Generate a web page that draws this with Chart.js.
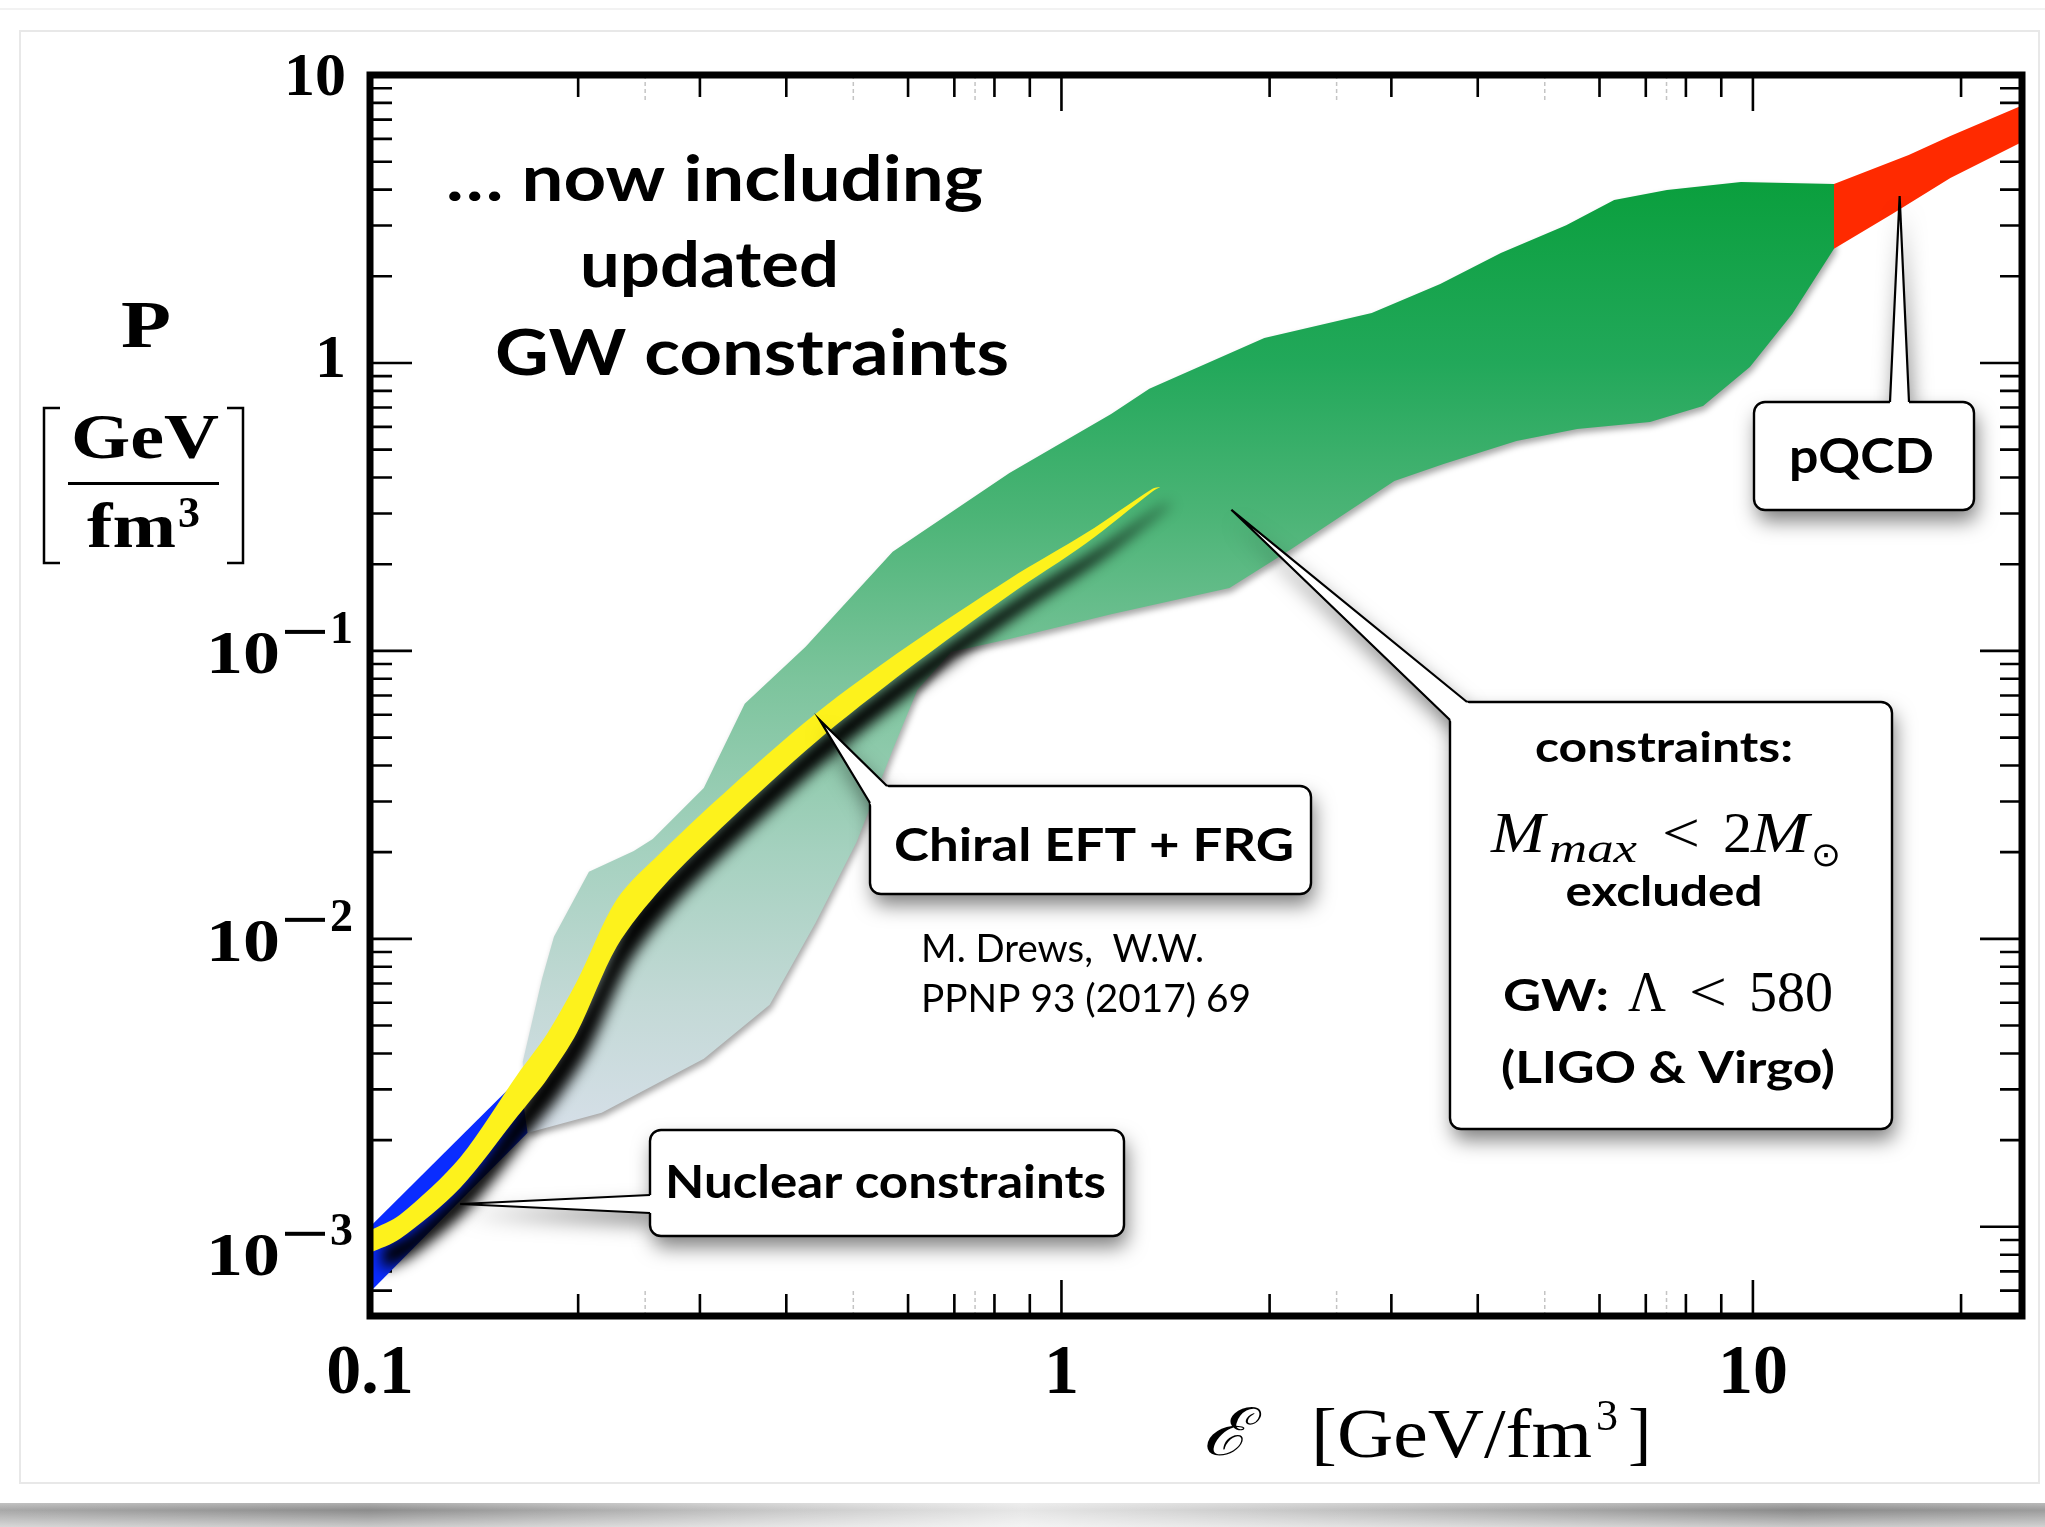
<!DOCTYPE html>
<html>
<head>
<meta charset="utf-8">
<title>Neutron star matter EoS</title>
<script src="https://cdn.jsdelivr.net/npm/chart.js@4.4.1/dist/chart.umd.min.js"></script>
<style>
  html, body { margin: 0; padding: 0; background: #fff; }
  #wrap { width: 2045px; height: 1527px; }
</style>
</head>
<body>
<div id="wrap"><canvas id="eos" width="2045" height="1527"></canvas></div>
<script>
// energy density E and pressure P, both in GeV/fm^3

// constraints band (Mmax > 2 Msun, GW tidal deformability)
const greenUpperE = [0.1663, 0.1773, 0.1845, 0.2073, 0.2407, 0.2564, 0.3039, 0.3483, 0.4266, 0.570, 0.841, 1.18, 1.34, 1.965, 2.81, 3.53, 4.32, 5.37, 6.30, 7.51, 9.61, 13.1];
const greenUpperP = [0.00374, 0.00726, 0.01016, 0.0171, 0.0202, 0.0222, 0.0334, 0.0655, 0.1033, 0.2208, 0.415, 0.665, 0.813, 1.22, 1.49, 1.88, 2.41, 3.01, 3.68, 3.99, 4.25, 4.18];
const greenLowerE = [0.1692, 0.2163, 0.304, 0.3785, 0.441, 0.5055, 0.570, 0.619, 0.693, 0.841, 1.18, 1.75, 2.14, 3.03, 3.57, 4.55, 5.57, 7.10, 8.47, 9.90, 11.4, 13.1];
const greenLowerP = [0.00212, 0.00249, 0.00383, 0.0059, 0.01137, 0.0217, 0.0453, 0.0733, 0.0993, 0.110, 0.134, 0.1655, 0.224, 0.389, 0.446, 0.536, 0.590, 0.624, 0.709, 0.968, 1.48, 2.49];

// perturbative QCD
const pqcdUpperE = [13.1, 16.8, 19.3, 25];
const pqcdUpperP = [4.18, 5.27, 6.14, 8.0];
const pqcdLowerE = [13.1, 15.9, 19.3, 25];
const pqcdLowerP = [2.49, 3.29, 4.39, 6.0];

// nuclear constraints
const nuclearUpperE = [0.1, 0.1647];
const nuclearUpperP = [0.00100, 0.00329];
const nuclearLowerE = [0.1, 0.169];
const nuclearLowerP = [0.000594, 0.00212];

// chiral EFT + FRG
const chiralE = [0.1, 0.1105, 0.135, 0.1636, 0.1802, 0.1992, 0.2275, 0.265, 0.3314, 0.441, 0.599, 0.841, 1.087, 1.354, 1.39];
const chiralUpperP = [0.00097, 0.0011, 0.00174, 0.00339, 0.00466, 0.00712, 0.01373, 0.02023, 0.03343, 0.0605, 0.1037, 0.1777, 0.257, 0.366, 0.371];
const chiralLowerP = [0.000811, 0.000908, 0.001365, 0.00243, 0.00325, 0.00472, 0.00941, 0.01514, 0.02586, 0.0482, 0.0863, 0.1564, 0.237, 0.358, 0.371];

// axes
const xTickValues = [0.1, 0.2, 0.3, 0.4, 0.6, 0.7, 0.8, 0.9, 1, 2, 3, 4, 6, 7, 8, 9, 10, 20];
const xFaintTicks = [0.25, 0.5, 0.75, 2.5, 5, 7.5];
const yTickValues = [0.0006, 0.0007, 0.0008, 0.0009, 0.001, 0.002, 0.003, 0.004, 0.005, 0.006, 0.007, 0.008, 0.009,
  0.01, 0.02, 0.03, 0.04, 0.05, 0.06, 0.07, 0.08, 0.09, 0.1, 0.2, 0.3, 0.4, 0.5, 0.6, 0.7, 0.8, 0.9,
  1, 2, 3, 4, 5, 6, 7, 8, 9, 10];
const xLabelValues = [0.1, 1, 10];
const xLabelTexts = ['0.1', '1', '10'];
const yLabelValues = [10, 1, 0.1, 0.01, 0.001];
const yLabelBases = ['10', '1', '10', '10', '10'];
const yLabelExponents = ['', '', '1', '2', '3'];

// points the callout tails aim at
const pqcdTip = [16.3, 3.8];
const constraintsTip = [1.761, 0.309];
const chiralTip = [0.447, 0.0576];
const nuclearTip = [0.135, 0.0012];

const sans = 'Lato, "Open Sans", sans-serif';
const serif = '"Liberation Serif", "DejaVu Serif", serif';

const toPoints = (es, ps) => es.map((e, i) => ({ x: e, y: ps[i] }));
const outline = (ue, up, le, lp) => toPoints(ue, up).concat(toPoints(le, lp).reverse());

const greenStops = [[4.3, '#0a9f3d'], [1.0, '#22a85a'], [0.3, '#4bb476'], [0.08, '#7cc49c'], [0.02, '#a5d1bf'], [0.006, '#c3d9d6'], [0.0021, '#d6dfe8']];

function greenFill(c) {
  const chart = c.chart;
  if (!chart.chartArea) return '#3cae6e';
  const y = chart.scales.y;
  const top = y.getPixelForValue(greenStops[0][0]);
  const bot = y.getPixelForValue(greenStops[greenStops.length - 1][0]);
  const g = chart.ctx.createLinearGradient(0, top, 0, bot);
  greenStops.forEach(([v, col]) => g.addColorStop((y.getPixelForValue(v) - top) / (bot - top), col));
  return g;
}

const bandShadows = {
  'Chiral EFT + FRG': { color: 'rgba(0,0,0,1)', blur: 14, dx: 12, dy: 17 },
  'constraints': { color: 'rgba(0,0,0,0.35)', blur: 6, dx: 2, dy: 4 }
};

// shadow has to be set before the filler paints the band
const bandShadow = {
  id: 'bandShadow',
  beforeDatasetDraw(chart, args) {
    const s = bandShadows[chart.data.datasets[args.index].label];
    if (!s) return;
    const ctx = chart.ctx;
    ctx.save();
    ctx.shadowColor = s.color;
    ctx.shadowBlur = s.blur;
    ctx.shadowOffsetX = s.dx;
    ctx.shadowOffsetY = s.dy;
  },
  afterDatasetDraw(chart, args) {
    if (bandShadows[chart.data.datasets[args.index].label]) chart.ctx.restore();
  }
};
const filler = Chart.registry.plugins.get('filler');
Chart.unregister(filler);
Chart.register(bandShadow, filler);

function put(ctx, text, x, y, font, width, align) {
  ctx.save();
  ctx.font = font;
  ctx.textAlign = align || 'left';
  ctx.textBaseline = 'alphabetic';
  ctx.translate(x, y);
  if (width) ctx.scale(width / ctx.measureText(text).width, 1);
  ctx.fillText(text, 0, 0);
  ctx.restore();
}

const pageBackdrop = {
  id: 'pageBackdrop',
  beforeDraw(chart) {
    const ctx = chart.ctx;
    const w = chart.width;
    ctx.save();
    ctx.fillStyle = '#ffffff';
    ctx.fillRect(0, 0, w, chart.height);
    ctx.strokeStyle = '#f2f2f2';
    ctx.lineWidth = 2;
    ctx.beginPath(); ctx.moveTo(0, 9); ctx.lineTo(w, 9); ctx.stroke();
    ctx.strokeStyle = '#e8e8e8';
    ctx.strokeRect(20, 31, 2019, 1452);
    const g = ctx.createLinearGradient(0, 0, w, 0);
    g.addColorStop(0, '#a8a8a8');
    g.addColorStop(0.18, '#8c8c8c');
    g.addColorStop(0.38, '#c8c8c8');
    g.addColorStop(0.5, '#e6e6e6');
    g.addColorStop(0.66, '#c0c0c0');
    g.addColorStop(0.88, '#8a8a8a');
    g.addColorStop(1, '#9c9c9c');
    ctx.fillStyle = g;
    ctx.fillRect(0, 1503, w, 24);
    const v = ctx.createLinearGradient(0, 1503, 0, 1527);
    v.addColorStop(0, 'rgba(255,255,255,0.3)');
    v.addColorStop(0.3, 'rgba(255,255,255,0)');
    v.addColorStop(1, 'rgba(255,255,255,0.55)');
    ctx.fillStyle = v;
    ctx.fillRect(0, 1503, w, 24);
    ctx.restore();
  }
};

const axisFrame = {
  id: 'axisFrame',
  beforeDatasetsDraw(chart) {
    const { ctx, chartArea: a, scales: { x, y } } = chart;
    ctx.save();
    ctx.strokeStyle = '#000';
    ctx.lineWidth = 2.6;
    ctx.beginPath();
    for (const t of x.ticks) {
      const px = x.getPixelForValue(t.value);
      const len = t.major ? 36 : 22;
      ctx.moveTo(px, a.bottom); ctx.lineTo(px, a.bottom - len);
      ctx.moveTo(px, a.top); ctx.lineTo(px, a.top + len);
    }
    for (const t of y.ticks) {
      const py = y.getPixelForValue(t.value);
      const len = t.major ? 42 : 22;
      ctx.moveTo(a.left, py); ctx.lineTo(a.left + len, py);
      ctx.moveTo(a.right, py); ctx.lineTo(a.right - len, py);
    }
    ctx.stroke();
    ctx.strokeStyle = '#c4c4c4';
    ctx.lineWidth = 1.5;
    ctx.setLineDash([4, 3]);
    ctx.beginPath();
    for (const v of xFaintTicks) {
      const px = x.getPixelForValue(v);
      ctx.moveTo(px, a.bottom); ctx.lineTo(px, a.bottom - 28);
      ctx.moveTo(px, a.top); ctx.lineTo(px, a.top + 28);
    }
    ctx.stroke();
    ctx.restore();
  },
  afterDatasetsDraw(chart) {
    const { ctx, chartArea: a } = chart;
    ctx.save();
    ctx.strokeStyle = '#000';
    ctx.lineWidth = 7;
    ctx.strokeRect(a.left, a.top, a.right - a.left, a.bottom - a.top);
    ctx.restore();
  }
};

function roundedBox(ctx, l, t, r, b, rad) {
  ctx.beginPath();
  ctx.moveTo(l + rad, t);
  ctx.arcTo(r, t, r, b, rad);
  ctx.arcTo(r, b, l, b, rad);
  ctx.arcTo(l, b, l, t, rad);
  ctx.arcTo(l, t, r, t, rad);
  ctx.closePath();
}

function drawCallout(ctx, box, base, tip) {
  const [l, t, r, b] = box;
  const [p1, p2] = base;
  const tail = () => {
    ctx.beginPath();
    ctx.moveTo(tip[0], tip[1]); ctx.lineTo(p1[0], p1[1]); ctx.lineTo(p2[0], p2[1]);
    ctx.closePath();
  };
  ctx.save();
  ctx.fillStyle = '#fff';
  ctx.shadowColor = 'rgba(0,0,0,0.5)';
  ctx.shadowBlur = 20;
  ctx.shadowOffsetX = 3;
  ctx.shadowOffsetY = 11;
  roundedBox(ctx, l, t, r, b, 11); ctx.fill();
  tail(); ctx.fill();
  ctx.shadowColor = 'transparent';
  roundedBox(ctx, l, t, r, b, 11); ctx.fill();
  tail(); ctx.fill();
  ctx.strokeStyle = '#000';
  ctx.lineWidth = 2.4;
  roundedBox(ctx, l, t, r, b, 11); ctx.stroke();
  // open the border where the tail joins the box
  const push = (p) => {
    const dx = p[0] - tip[0], dy = p[1] - tip[1];
    const d = Math.hypot(dx, dy);
    return [p[0] + dx / d * 7, p[1] + dy / d * 7];
  };
  const q1 = push(p1), q2 = push(p2);
  ctx.beginPath();
  ctx.moveTo(tip[0], tip[1]); ctx.lineTo(q1[0], q1[1]); ctx.lineTo(q2[0], q2[1]);
  ctx.closePath(); ctx.fill();
  ctx.lineWidth = 2.2;
  ctx.beginPath();
  ctx.moveTo(p1[0], p1[1]); ctx.lineTo(tip[0], tip[1]); ctx.lineTo(p2[0], p2[1]);
  ctx.stroke();
  ctx.restore();
}

const textLayer = {
  id: 'textLayer',
  afterDraw(chart) {
    const { ctx, scales: { x, y } } = chart;
    const at = (pt) => [x.getPixelForValue(pt[0]), y.getPixelForValue(pt[1])];
    ctx.save();
    ctx.fillStyle = '#000';

    // title
    put(ctx, '\u2026 now including', 446, 201, `bold 64px ${sans}`, 537);
    put(ctx, 'updated', 580, 287, `bold 64px ${sans}`, 259);
    put(ctx, 'GW constraints', 495, 375, `bold 64px ${sans}`, 514);

    // y axis title
    put(ctx, 'P', 121, 347, `bold 68px ${serif}`, 50);
    put(ctx, 'GeV', 71, 458, `bold 64px ${serif}`, 148);
    put(ctx, 'fm', 87, 547, `bold 64px ${serif}`, 89);
    put(ctx, '3', 178, 527, `bold 44px ${serif}`);
    ctx.fillRect(68, 482, 151, 3);
    ctx.strokeStyle = '#000';
    ctx.lineWidth = 2.5;
    ctx.beginPath();
    ctx.moveTo(60, 408); ctx.lineTo(44, 408); ctx.lineTo(44, 563); ctx.lineTo(60, 563);
    ctx.moveTo(227, 408); ctx.lineTo(243, 408); ctx.lineTo(243, 563); ctx.lineTo(227, 563);
    ctx.stroke();

    // x axis title
    put(ctx, '\u2130', 1202, 1455, `italic 66px ${serif}`, 47);
    put(ctx, '[GeV/fm', 1311, 1457, `70px ${serif}`, 281);
    put(ctx, '3', 1596, 1430, `44px ${serif}`);
    put(ctx, ']', 1628, 1457, `70px ${serif}`);

    // tick labels
    xLabelValues.forEach((v, i) => {
      put(ctx, xLabelTexts[i], x.getPixelForValue(v), 1393, `bold 70px ${serif}`, null, 'center');
    });
    yLabelValues.forEach((v, i) => {
      const py = y.getPixelForValue(v);
      const exp = yLabelExponents[i];
      if (!exp) {
        put(ctx, yLabelBases[i], 346, py + (v === 1 ? 14 : 20), `bold 62px ${serif}`, null, 'right');
        return;
      }
      const by = py + (v === 0.001 ? 48 : 22);
      put(ctx, yLabelBases[i], 280, by, `bold 62px ${serif}`, 74, 'right');
      ctx.fillRect(285, by - 43, 40, 4);
      put(ctx, exp, 330, by - 30, `bold 46px ${serif}`);
    });

    // reference
    put(ctx, 'M. Drews,  W.W.', 921, 962, `38px ${sans}`, 283);
    put(ctx, 'PPNP 93 (2017) 69', 921, 1012, `38px ${sans}`, 330);

    // callouts
    drawCallout(ctx, [1754, 402, 1974, 510], [[1890, 402], [1909, 402]], at(pqcdTip));
    drawCallout(ctx, [1450, 702, 1892, 1129], [[1467, 702], [1450, 720]], at(constraintsTip));
    drawCallout(ctx, [870, 786, 1311, 894], [[887, 786], [870, 803]], at(chiralTip));
    drawCallout(ctx, [650, 1130, 1124, 1236], [[650, 1195], [650, 1213]], at(nuclearTip));

    ctx.fillStyle = '#000';
    put(ctx, 'pQCD', 1789, 473, `bold 48px ${sans}`, 145);
    put(ctx, 'Chiral EFT + FRG', 894, 861, `bold 46px ${sans}`, 400);
    put(ctx, 'Nuclear constraints', 665, 1198, `bold 46px ${sans}`, 441);

    put(ctx, 'constraints:', 1664, 762, `bold 42px ${sans}`, 258, 'center');
    put(ctx, 'M', 1491, 852, `italic 58px ${serif}`, 54);
    put(ctx, 'max', 1549, 862, `italic 42px ${serif}`, 88);
    put(ctx, '<', 1662, 852, `58px ${serif}`, 38);
    put(ctx, '2', 1723, 852, `58px ${serif}`);
    put(ctx, 'M', 1751, 852, `italic 58px ${serif}`, 58);
    put(ctx, '\u2299', 1811, 866, '34px "DejaVu Sans", sans-serif', 30);
    put(ctx, 'excluded', 1664, 906, `bold 42px ${sans}`, 197, 'center');
    put(ctx, 'GW:', 1503, 1011, `bold 44px ${sans}`, 106);
    put(ctx, '\u039B', 1628, 1011, `58px ${serif}`, 38);
    put(ctx, '<', 1689, 1011, `58px ${serif}`, 38);
    put(ctx, '580', 1749, 1011, `58px ${serif}`, 84);
    put(ctx, '(LIGO & Virgo)', 1501, 1083, `bold 44px ${sans}`, 334);
    ctx.restore();
  }
};

const band = (label, data, color, tension) => ({
  label,
  data,
  backgroundColor: color,
  borderWidth: 0,
  pointRadius: 0,
  tension: tension || 0,
  fill: 'shape'
});

const withMajor = (values) => values.map((v) => {
  const l = Math.log10(v);
  return { value: v, major: Math.abs(l - Math.round(l)) < 1e-9 };
});

new Chart(document.getElementById('eos'), {
  type: 'line',
  data: {
    datasets: [
      band('Chiral EFT + FRG', outline(chiralE, chiralUpperP, chiralE, chiralLowerP), '#fdf21c', 0.3),
      band('Nuclear constraints', outline(nuclearUpperE, nuclearUpperP, nuclearLowerE, nuclearLowerP), '#0a2cff'),
      band('pQCD', outline(pqcdUpperE, pqcdUpperP, pqcdLowerE, pqcdLowerP), '#ff2a00'),
      band('constraints', outline(greenUpperE, greenUpperP, greenLowerE, greenLowerP), greenFill)
    ]
  },
  options: {
    responsive: false,
    animation: false,
    devicePixelRatio: 1,
    events: [],
    layout: { padding: { left: 370, top: 75, right: 23, bottom: 211 } },
    scales: {
      x: {
        type: 'logarithmic',
        min: 0.1,
        max: 24.5,
        bounds: 'data',
        display: false,
        ticks: { autoSkip: false },
        afterBuildTicks: (s) => { s.ticks = withMajor(xTickValues); }
      },
      y: {
        type: 'logarithmic',
        min: 0.00049,
        max: 10,
        bounds: 'data',
        display: false,
        ticks: { autoSkip: false },
        afterBuildTicks: (s) => { s.ticks = withMajor(yTickValues); }
      }
    },
    plugins: {
      legend: { display: false },
      tooltip: { enabled: false }
    }
  },
  plugins: [pageBackdrop, axisFrame, textLayer]
});
</script>
</body>
</html>
